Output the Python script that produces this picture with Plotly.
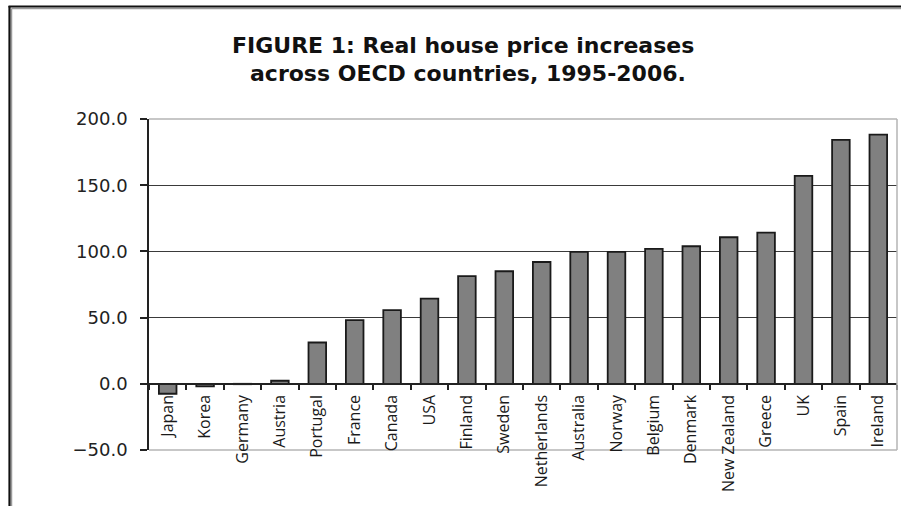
import plotly.graph_objects as go

countries = ["Japan", "Korea", "Germany", "Austria", "Portugal", "France", "Canada",
             "USA", "Finland", "Sweden", "Netherlands", "Australia", "Norway",
             "Belgium", "Denmark", "New Zealand", "Greece", "UK", "Spain", "Ireland"]
increase = [-7.5, -2.0, -0.3, 2.3, 31.2, 48.1, 55.6, 64.4, 81.3, 85.0, 92.0, 99.6,
            99.6, 101.9, 103.9, 110.7, 114.2, 157.0, 184.2, 188.2]
y_ticks = [-50, 0, 50, 100, 150, 200]
title_lines = ["FIGURE 1: Real house price increases", "across OECD countries, 1995-2006."]

W, H = 901, 506
L, R, T, B = 149, 4, 119, 56
pw, ph = W - L - R, H - T - B


def px_x(p):
    return (p - L) / pw


def px_y(p):
    return (H - B - p) / ph


fig = go.Figure()
fig.add_trace(go.Bar(
    x=countries, y=increase,
    marker=dict(color="#808080", line=dict(color="#1a1a1a", width=1.8)),
))

ymin, ymax = y_ticks[0], y_ticks[-1]
zero_pos = (0 - ymin) / (ymax - ymin)

fig.update_layout(
    width=W, height=H,
    margin=dict(l=L, r=R, t=T, b=B, pad=0),
    paper_bgcolor="white", plot_bgcolor="white",
    showlegend=False,
    bargap=0.53,
    xaxis=dict(
        type="category", range=[-0.5, len(countries) - 0.5],
        anchor="free", position=zero_pos,
        showline=True, linecolor="#222", linewidth=1.5,
        ticks="outside", tickson="boundaries", ticklen=5, tickwidth=1.5, tickcolor="#222",
        tickangle=-90, ticklabelstandoff=4,
        tickfont=dict(family="Open Sans", size=16, color="#1a1a1a"),
        showgrid=False, automargin=False, fixedrange=True,
    ),
    yaxis=dict(
        range=[ymin, ymax], tickvals=y_ticks, tickformat=".1f",
        showline=True, linecolor="#222", linewidth=1.5,
        ticks="outside", ticklen=7, tickwidth=1.5, tickcolor="#222",
        ticklabelstandoff=9,
        tickfont=dict(family="DejaVu Sans", size=18, color="#222"),
        showgrid=True, gridcolor="#3a3a3a", gridwidth=1.4,
        zeroline=False, automargin=False, fixedrange=True,
    ),
)

# light grey plot border (top, right, bottom)
border = dict(color="#b5b5b5", width=1.5)
fig.add_shape(type="line", xref="paper", yref="paper", x0=0, x1=1, y0=1, y1=1, line=border, layer="above")
fig.add_shape(type="line", xref="paper", yref="paper", x0=1, x1=1, y0=0, y1=1, line=border, layer="above")
fig.add_shape(type="line", xref="paper", yref="paper", x0=0, x1=1, y0=0, y1=0, line=border, layer="below")

# outer frame (left and top), with grey shadow
fig.add_shape(type="line", xref="paper", yref="paper", x0=px_x(11.5), x1=px_x(11.5), y0=px_y(8.5), y1=px_y(520),
              line=dict(color="#9a9a9a", width=1.5), layer="above")
fig.add_shape(type="line", xref="paper", yref="paper", x0=px_x(11.5), x1=px_x(910), y0=px_y(8.5), y1=px_y(8.5),
              line=dict(color="#9a9a9a", width=1.5), layer="above")
fig.add_shape(type="line", xref="paper", yref="paper", x0=px_x(9.5), x1=px_x(9.5), y0=px_y(6), y1=px_y(520),
              line=dict(color="#111", width=2.2), layer="above")
fig.add_shape(type="line", xref="paper", yref="paper", x0=px_x(8.5), x1=px_x(910), y0=px_y(6.5), y1=px_y(6.5),
              line=dict(color="#111", width=2.2), layer="above")

for text, cx, cy in zip(title_lines, [463, 468], [45, 74]):
    fig.add_annotation(text=text, xref="paper", yref="paper", x=px_x(cx), y=px_y(cy),
                       xanchor="center", yanchor="middle", showarrow=False,
                       font=dict(family="DejaVu Sans", size=22, color="#111", weight="bold"))

fig.write_html("out.html", config={"displayModeBar": False},
               post_script="document.body.style.margin='0';document.body.style.overflow='hidden';")
